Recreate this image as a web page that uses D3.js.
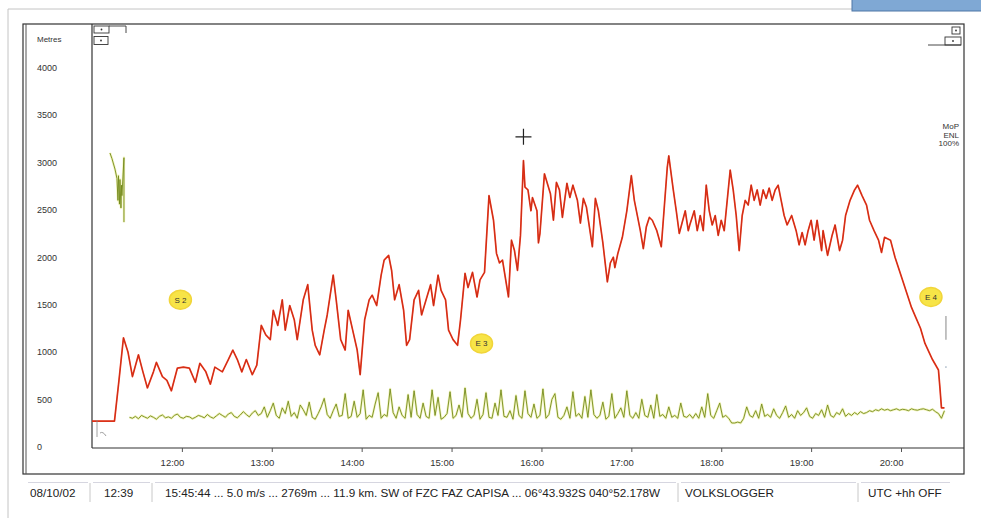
<!DOCTYPE html>
<html><head><meta charset="utf-8">
<script src="https://cdn.jsdelivr.net/npm/d3@7"></script>
<style>
body{margin:0;background:#fff;}
svg{display:block;font-family:"Liberation Sans",Arial,sans-serif;}
</style>
</head><body><svg id="c" width="981" height="518"></svg>
<script>
// ---------- DATA ----------
const altTimes = [
"11:00","11:15","11:18","11:21","11:24","11:27","11:31","11:34","11:37","11:41",
"11:43","11:47","11:50","11:53","11:57","12:01","12:05","12:09","12:12","12:16",
"12:19","12:22","12:27","12:31","12:34","12:37","12:40","12:43","12:47","12:50",
"12:53","12:56","12:59","13:01","13:04","13:07","13:09","13:12","13:15","13:17",
"13:21","13:24","13:27","13:29","13:32","13:35","13:37","13:41","13:43","13:46",
"13:49","13:51","13:54","13:57","13:59","14:02","14:05","14:07","14:10","14:13",
"14:15","14:18","14:20","14:22","14:25","14:28","14:30","14:32","14:35","14:38",
"14:40","14:43","14:46","14:48","14:51","14:53","14:56","14:58","15:01","15:04",
"15:06","15:09","15:11","15:14","15:17","15:19","15:22","15:25","15:28","15:30",
"15:32","15:34","15:38","15:40","15:42","15:44","15:46","15:48","15:49","15:51",
"15:53","15:54","15:57","15:58","15:59","16:02","16:06","16:08","16:10","16:12",
"16:14","16:17","16:19","16:21","16:24","16:26","16:28","16:30","16:34","16:36",
"16:38","16:41","16:44","16:46","16:48","16:49","16:51","16:54","16:57","17:00",
"17:02","17:06","17:08","17:10","17:12","17:14","17:17","17:20","17:24","17:25",
"17:28","17:30","17:32","17:36","17:38","17:39","17:42","17:44","17:46","17:48",
"17:50","17:52","17:54","17:56","17:58","18:00","18:02","18:04","18:06","18:08",
"18:10","18:12","18:14","18:16","18:18","18:20","18:22","18:24","18:26","18:28",
"18:30","18:32","18:34","18:36","18:38","18:40","18:42","18:44","18:47","18:50",
"18:52","18:54","18:56","18:58","19:00","19:02","19:04","19:07","19:08","19:11",
"19:14","19:16","19:19","19:21","19:23","19:26","19:29","19:31","19:34","19:37",
"19:39","19:42","19:45","19:47","19:49","19:53","19:56","20:01","20:07","20:10",
"20:13","20:16","20:21","20:25","20:26","20:27","20:29"];
const altValues = [
270,270,700,1150,1000,740,970,790,620,790,
890,740,700,590,830,840,830,680,880,790,
660,840,790,920,1020,920,790,920,760,860,
1280,1180,1130,1440,1280,1550,1230,1490,1340,1130,
1550,1710,1230,1070,970,1230,1390,1810,1550,1130,
1020,1440,1230,1020,760,1340,1550,1600,1490,1810,
1970,2020,1860,1550,1710,1440,1070,1130,1550,1650,
1390,1550,1710,1490,1810,1650,1550,1230,1130,1070,
1340,1830,1680,1840,1580,1760,1840,2650,2390,2040,
1940,1970,1580,2180,2070,1860,2230,3020,2740,2710,
2490,2630,2490,2150,2250,2880,2670,2390,2790,2710,
2420,2780,2630,2760,2600,2360,2620,2530,2110,2620,
2490,2150,1740,1940,2000,1890,2040,2210,2490,2860,
2600,2280,2090,2320,2420,2390,2280,2110,2950,3070,
2710,2490,2250,2490,2280,2340,2490,2280,2440,2280,
2760,2490,2340,2440,2230,2390,2280,2600,2920,2710,
2440,2070,2440,2600,2550,2760,2600,2710,2550,2710,
2620,2730,2600,2710,2760,2600,2440,2340,2440,2280,
2130,2260,2130,2280,2390,2180,2390,2070,2280,2020,
2230,2340,2070,2180,2440,2600,2710,2760,2650,2550,
2390,2280,2180,2050,2210,2180,2000,1760,1470,1360,
1250,1090,920,810,620,410,410];

// ENL trace (sampled evenly between start and end)
const enlStart = "11:25", enlEnd = "20:29";
const enlValues = [
310,300,320,295,330,315,300,325,310,290,320,335,305,315,300,330,345,310,300,320,315,295,
310,330,320,305,340,315,300,325,350,330,310,345,360,320,305,335,370,340,315,355,380,330,
350,420,310,380,460,330,300,410,350,480,320,360,300,440,390,330,470,310,290,350,420,510,340,300,380,450,320,
330,560,300,320,480,310,350,600,290,330,
310,450,570,300,340,320,610,360,300,420,
330,300,550,310,590,340,300,460,320,300,
600,330,520,290,310,350,580,300,330,440,
310,620,350,300,330,500,290,340,570,310,
300,460,330,600,320,310,380,290,540,330,
300,590,350,310,450,300,330,610,300,340,
500,560,310,290,330,420,300,580,320,350,
300,530,310,600,340,300,330,470,290,320,
560,300,350,410,310,590,330,300,360,300,
500,330,310,440,300,550,320,340,300,420,
310,330,300,460,320,310,340,300,
350,300,420,310,560,330,300,380,460,310,
330,300,250,250,260,250,300,420,330,310,
380,300,450,320,340,310,400,330,300,360,
430,310,340,300,380,330,360,410,320,300,
350,330,390,310,440,330,310,360,340,400,
320,350,330,360,340,370,350,
360,380,370,390,380,400,385,395,380,390,400,385,395,390,380,400,390,385,395,400,390,380,395,370,350,300,380];
const enlEarlyTimes = ["11:12:00","11:13:20","11:15:20","11:16:40","11:17:20","11:17:40","11:18:20","11:18:40","11:19:20","11:19:40","11:20:00","11:21:20","11:21:20"];
const enlEarlyValues = [3100,3040,2930,2830,2600,2860,2560,2820,2520,2760,2650,3050,2370];

const yTickValues = [0,500,1000,1500,2000,2500,3000,3500,4000];
const xTickLabels = ["12:00","13:00","14:00","15:00","16:00","17:00","18:00","19:00","20:00"];
const markerLabels = ["S 2","E 3","E 4"];
const markerTimes = ["11:59","15:20","20:20"];
const markerAlts = [1550,1090,1580];
const cursorTime = "15:48", cursorAlt = 3270;
const rightLabels = ["MoP","ENL","100%"];
const statusTexts = ["08/10/02","12:39","15:45:44 ... 5.0 m/s ... 2769m ... 11.9 km. SW of FZC FAZ CAPISA ... 06°43.932S 040°52.178W","VOLKSLOGGER","UTC +hh OFF"];

// ---------- HELPERS ----------
const parseT = s => { const p = s.split(":").map(Number); return new Date(2002,9,8,p[0],p[1],p[2]||0); };
const svg = d3.select("#c");

const x = d3.scaleTime().domain([parseT("11:00"), parseT("20:00")]).range([92, 901]);
const y = d3.scaleLinear().domain([0, 4000]).range([446.7, 67.7]);

const PL = 92, PR = 964, PT = 24, PB = 448;

// ---------- WINDOW FRAME ----------
svg.append("path").attr("d","M8,518V9H852").attr("fill","none").attr("stroke","#c4c4c4");
svg.append("rect").attr("x",852).attr("y",-1).attr("width",130).attr("height",12)
  .attr("fill","#7fa8d4").attr("stroke","#4f77a6");
svg.append("rect").attr("x",23).attr("y",PT).attr("width",PR-23).attr("height",474-PT)
  .attr("fill","none").attr("stroke","#333").attr("stroke-width",1.2);
svg.append("line").attr("x1",26).attr("x2",26).attr("y1",PT).attr("y2",474).attr("stroke","#555");
svg.append("line").attr("x1",PL).attr("x2",PL).attr("y1",PT).attr("y2",PB).attr("stroke","#333").attr("stroke-width",1.2);
svg.append("line").attr("x1",PL).attr("x2",PR).attr("y1",PB).attr("y2",PB).attr("stroke","#333").attr("stroke-width",1.2);

// clip
svg.append("clipPath").attr("id","pc").append("rect").attr("x",PL).attr("y",PT).attr("width",PR-PL).attr("height",PB-PT);
const plot = svg.append("g").attr("clip-path","url(#pc)");

// ---------- AXES ----------
const gx = svg.append("g").attr("transform",`translate(0,${PB})`)
  .call(d3.axisBottom(x).tickValues(xTickLabels.map(parseT)).tickSize(4).tickFormat(d3.timeFormat("%H:%M")));
gx.select(".domain").remove();
gx.selectAll(".tick line").attr("stroke","#555");
gx.selectAll(".tick text").attr("text-anchor","end").attr("x",2).attr("y",11)
  .attr("font-size",9.5).attr("fill","#333").attr("font-family","Liberation Sans, Arial, sans-serif");

const gy = svg.append("g").attr("transform","translate(37,0)")
  .call(d3.axisRight(y).tickValues(yTickValues).tickSize(0).tickPadding(0).tickFormat(d3.format("d")));
gy.select(".domain").remove();
gy.selectAll(".tick text").attr("text-anchor","start").attr("font-size",9).attr("fill","#333")
  .attr("font-family","Liberation Sans, Arial, sans-serif");
svg.append("text").attr("x",37).attr("y",42).attr("font-size",8).attr("fill","#333").text("Metres");

// ---------- SERIES ----------
const alt = altTimes.map((t,i)=>({t:parseT(t), v:altValues[i]}));
const t0 = parseT(enlStart).getTime(), t1 = parseT(enlEnd).getTime();
const enl = enlValues.map((v,i)=>({t:new Date(t0 + (t1-t0)*i/(enlValues.length-1)), v}));
const enlEarly = enlEarlyTimes.map((t,i)=>({t:parseT(t), v:enlEarlyValues[i]}));
const line = d3.line().x(d=>x(d.t)).y(d=>y(d.v));

// ENL (olive) with soft yellow halo
[enl, enlEarly].forEach(data=>{
  plot.append("path").datum(data).attr("d",line).attr("fill","none")
    .attr("stroke","#e6ea7a").attr("stroke-width",2.4).attr("stroke-opacity",0.5).attr("stroke-linejoin","round");
  plot.append("path").datum(data).attr("d",line).attr("fill","none")
    .attr("stroke","#748a1c").attr("stroke-width",0.9).attr("stroke-linejoin","round");
});

// altitude (red)
plot.append("path").datum(alt).attr("d",line).attr("fill","none")
  .attr("stroke","#ee3a1e").attr("stroke-width",1.7).attr("stroke-linejoin","round");
plot.append("path").datum(alt).attr("d",line).attr("fill","none")
  .attr("stroke","#a8200e").attr("stroke-width",0.6).attr("stroke-opacity",0.8).attr("stroke-linejoin","round");

// ---------- MARKERS ----------
markerLabels.forEach((lab,i)=>{
  const cx = x(parseT(markerTimes[i])), cy = y(markerAlts[i]);
  plot.append("ellipse").attr("cx",cx).attr("cy",cy).attr("rx",11).attr("ry",9.5)
    .attr("fill","#f7e447").attr("stroke","#f1d53a").attr("stroke-width",1.5);
  plot.append("text").attr("x",cx).attr("y",cy+2.8).attr("text-anchor","middle")
    .attr("font-size",8).attr("fill","#333").text(lab);
});

// cursor cross
{
  const cx = x(parseT(cursorTime)), cy = y(cursorAlt);
  plot.append("path").attr("d",`M${cx-8},${cy}H${cx+8}M${cx},${cy-8}V${cy+8}`)
    .attr("stroke","#222").attr("stroke-width",1.2);
}
// small gray artefacts near end
{
  const gxp = x(parseT("20:30"));
  plot.append("line").attr("x1",gxp).attr("x2",gxp).attr("y1",y(1380)).attr("y2",y(1130)).attr("stroke","#9a9a9a").attr("stroke-width",1.2);
  plot.append("circle").attr("cx",gxp).attr("cy",y(840)).attr("r",0.8).attr("fill","#9ab");
  plot.append("path").attr("d",`M97,420V437M100,433q3,-2,6,3`).attr("fill","none").attr("stroke","#888").attr("stroke-width",0.8);
}

// right labels
rightLabels.forEach((t,i)=>{
  svg.append("text").attr("x",959).attr("y",129+i*8.5).attr("text-anchor","end")
    .attr("font-size",8).attr("fill","#333").text(t);
});

// ---------- WIDGETS ----------
const wg = svg.append("g").attr("fill","#fff").attr("stroke","#333").attr("stroke-width",0.9);
wg.append("rect").attr("x",94).attr("y",26).attr("width",15).attr("height",7);
wg.append("rect").attr("x",94).attr("y",36.5).attr("width",14).attr("height",8);
wg.append("path").attr("d","M109,26H126V33").attr("fill","none");
wg.append("rect").attr("x",952).attr("y",27).attr("width",8).attr("height",7);
wg.append("rect").attr("x",945).attr("y",37).attr("width",16).attr("height",8);
wg.append("path").attr("d","M928,45H961").attr("fill","none");
[[101.5,29.5],[101,40.5],[956,30.5],[953,41]].forEach(p=>{
  svg.append("circle").attr("cx",p[0]).attr("cy",p[1]).attr("r",0.9).attr("fill","#333");
});

// ---------- STATUS BAR ----------
const sepX = [90,152,678,858];
sepX.forEach(sx=>svg.append("line").attr("x1",sx).attr("x2",sx).attr("y1",483).attr("y2",502).attr("stroke","#c8c8c8"));
[[28,88],[93,150],[155,676],[681,856],[861,950]].forEach(s=>svg.append("line").attr("x1",s[0]).attr("x2",s[1]).attr("y1",482.5).attr("y2",482.5).attr("stroke","#d6d6e0"));
const statusX = [30,104,165,685,868];
statusTexts.forEach((t,i)=>{
  svg.append("text").attr("x",statusX[i]).attr("y",497).attr("font-size",11.7).attr("fill","#222").text(t);
});
</script>
</body></html>
